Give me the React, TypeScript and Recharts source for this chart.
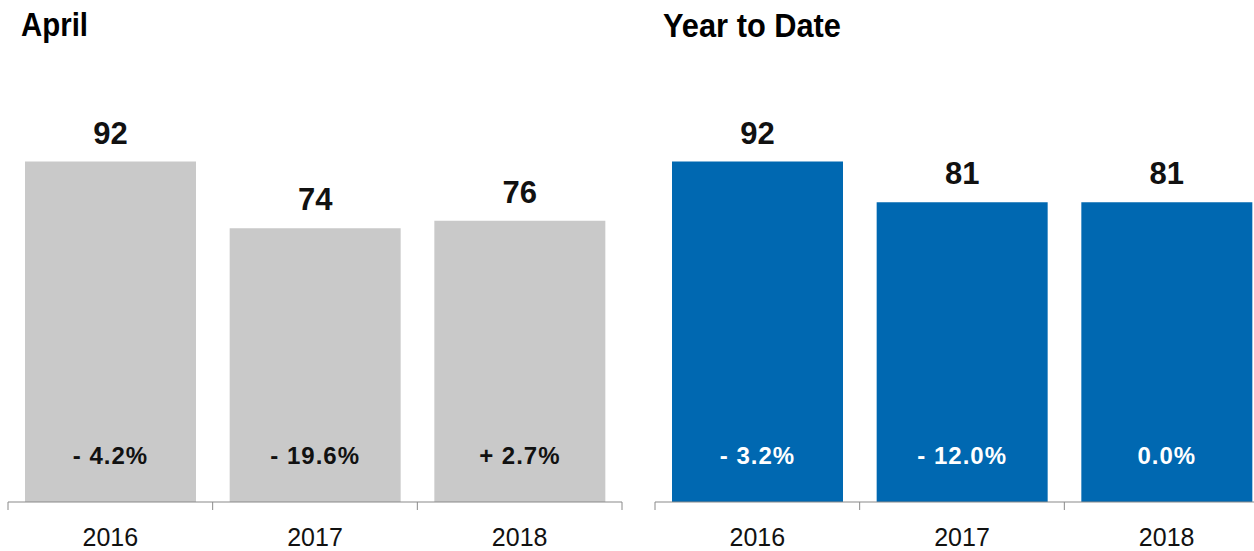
import React from 'react';
import { BarChart, Bar, XAxis, YAxis, LabelList } from 'recharts';

const years = ['2016', '2017', '2018'];
const aprilValues = [92, 74, 76];
const aprilChanges = ['- 4.2%', '- 19.6%', '+ 2.7%'];
const ytdValues = [92, 81, 81];
const ytdChanges = ['- 3.2%', '- 12.0%', '0.0%'];
const titles = ['April', 'Year to Date'];

const FONT = '"Liberation Sans", Arial, Helvetica, sans-serif';
const GRAY = '#c9c9c9';
const BLUE = '#0068b1';
const AXIS = '#8a8a8a';

const CHART_W = 640;
const CHART_H = 551;

const makeData = (vals: number[], changes: string[]) =>
  years.map((y, i) => ({ year: y, value: vals[i], change: changes[i] }));

const makeTick = (half: number, n: number) => (props: any) => {
  const { x, y, payload, index } = props;
  return (
    <g>
      <line x1={x - half} x2={x - half} y1={y} y2={y + 8} stroke={AXIS} strokeWidth={1} />
      {index === n - 1 && (
        <line x1={x + half} x2={x + half} y1={y} y2={y + 8} stroke={AXIS} strokeWidth={1} />
      )}
      <text x={x} y={y + 44} textAnchor="middle" fontFamily={FONT} fontSize={25} fill="#111">
        {payload.value}
      </text>
    </g>
  );
};

const valueLabel = (props: any) => {
  const { x, y, width, value } = props;
  return (
    <text x={x + width / 2} y={y - 18} textAnchor="middle" fontFamily={FONT} fontWeight="bold" fontSize={31} fill="#111">
      {value}
    </text>
  );
};

const changeLabel = (color: string) => (props: any) => {
  const { x, y, width, height, value } = props;
  return (
    <text
      x={x + width / 2}
      y={y + height - 38}
      textAnchor="middle"
      fontFamily={FONT}
      fontWeight="bold"
      fontSize={24}
      letterSpacing={1}
      fill={color}
    >
      {value}
    </text>
  );
};

type PanelProps = {
  data: any[];
  color: string;
  labelColor: string;
  marginLeft: number;
  marginRight: number;
};

const Panel = ({ data, color, labelColor, marginLeft, marginRight }: PanelProps) => {
  const plotW = CHART_W - marginLeft - marginRight;
  const half = plotW / data.length / 2;
  return (
    <BarChart
      width={CHART_W}
      height={CHART_H}
      data={data}
      margin={{ top: 132, right: marginRight, bottom: 0, left: marginLeft }}
      barCategoryGap={17}
    >
      <XAxis
        dataKey="year"
        height={49}
        axisLine={{ stroke: AXIS, strokeWidth: 1.2 }}
        tickLine={false}
        tickSize={0}
        tickMargin={0}
        interval={0}
        tick={makeTick(half, data.length)}
      />
      <YAxis hide domain={[0, 100]} />
      <Bar dataKey="value" fill={color} isAnimationActive={false}>
        <LabelList dataKey="value" content={valueLabel} />
        <LabelList dataKey="change" content={changeLabel(labelColor)} />
      </Bar>
    </BarChart>
  );
};

export default function App() {
  const april = makeData(aprilValues, aprilChanges);
  const ytd = makeData(ytdValues, ytdChanges);
  return (
    <div
      style={{
        position: 'fixed',
        left: 0,
        top: 0,
        width: 1254,
        height: 551,
        overflow: 'hidden',
        background: '#fff',
      }}
    >
      <div style={{ position: 'absolute', left: 0, top: 0 }}>
        <Panel data={april} color={GRAY} labelColor="#111" marginLeft={8} marginRight={18} />
      </div>
      <div style={{ position: 'absolute', left: 640, top: 0 }}>
        <Panel data={ytd} color={BLUE} labelColor="#fff" marginLeft={15} marginRight={11} />
      </div>
      <svg width={1254} height={551} style={{ position: 'absolute', left: 0, top: 0, pointerEvents: 'none' }}>
        <text
          x={21}
          y={36}
          fontFamily={FONT}
          fontWeight="bold"
          fontSize={34}
          textLength={67}
          lengthAdjust="spacingAndGlyphs"
          fill="#000"
        >
          {titles[0]}
        </text>
        <text
          x={663}
          y={37}
          fontFamily={FONT}
          fontWeight="bold"
          fontSize={34}
          textLength={178}
          lengthAdjust="spacingAndGlyphs"
          fill="#000"
        >
          {titles[1]}
        </text>
      </svg>
    </div>
  );
}
